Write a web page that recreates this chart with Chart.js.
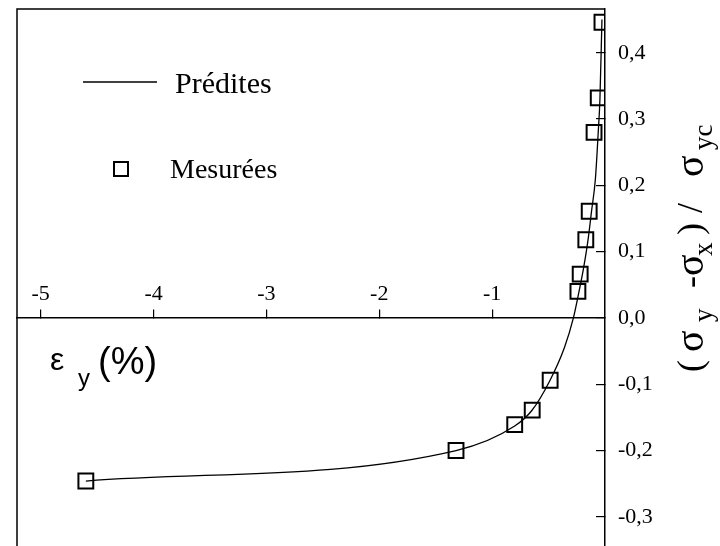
<!DOCTYPE html>
<html><head><meta charset="utf-8">
<script src="https://cdn.jsdelivr.net/npm/chart.js@4.4.1/dist/chart.umd.min.js"></script>
<style>html,body{margin:0;padding:0;background:#fff;overflow:hidden}#wrap{width:720px;height:546px;position:relative}</style>
</head><body><div id="wrap"><canvas id="c" width="720" height="546"></canvas></div>
<script>
const measuredX = [-4.60, -1.32, -0.80, -0.645, -0.486, -0.24, -0.22, -0.17, -0.14, -0.097, -0.06, -0.027];
const measuredY = [-0.246, -0.200, -0.161, -0.139, -0.094, 0.040, 0.066, 0.118, 0.161, 0.280, 0.332, 0.446];
const predictedX = [-4.60, -1.32, -0.80, -0.65, -0.49, -0.36, -0.28, -0.23, -0.19, -0.15, -0.12, -0.085, -0.06, -0.045, -0.027];
const predictedY = [-0.246, -0.200, -0.163, -0.140, -0.095, -0.045, 0.000, 0.040, 0.075, 0.118, 0.160, 0.210, 0.280, 0.330, 0.450];
const xTicks = [-5, -4, -3, -2, -1];
const yTicks = [-0.3, -0.2, -0.1, 0, 0.1, 0.2, 0.3, 0.4];
const seriesLabels = ['Prédites', 'Mesurées'];
// [text, kind, offset along the title]
const xTitleParts = [['ε', 'main', 0], ['y', 'sub', 28], ['(%)', 'big', 50]];
const yTitleParts = [['(', 'main', 0], ['σ', 'sym', 20], ['y', 'sub', 50], ['-', 'main', 84], ['σ', 'sym', 96], ['x', 'sub', 116], [')', 'main', 137], ['/', 'main', 159], ['σ', 'sym', 195], ['yc', 'sub', 222]];

const SERIF = '"Liberation Serif", "DejaVu Serif", serif';
const SANS = '"Liberation Sans", Arial, sans-serif';

const decor = {
  id: 'decor',
  afterDraw(chart) {
    const ctx = chart.ctx, a = chart.chartArea;
    ctx.save();
    ctx.strokeStyle = '#000';
    ctx.lineWidth = 1.5;
    ctx.beginPath();
    ctx.moveTo(a.left, chart.height);
    ctx.lineTo(a.left, a.top);
    ctx.lineTo(a.right, a.top);
    ctx.stroke();

    // legend
    ctx.fillStyle = '#000';
    ctx.lineWidth = 1.5;
    ctx.beginPath(); ctx.moveTo(83, 82); ctx.lineTo(157, 82); ctx.stroke();
    ctx.font = '30px ' + SERIF;
    ctx.textBaseline = 'alphabetic';
    ctx.textAlign = 'left';
    ctx.fillText(seriesLabels[0], 175, 93);
    ctx.lineWidth = 2;
    ctx.strokeRect(114, 162, 14, 14);
    ctx.font = '28px ' + SERIF;
    ctx.fillText(seriesLabels[1], 170, 178);

    // x title
    xTitleParts.forEach(([t, k, off]) => {
      if (k === 'sub') { ctx.font = '24px ' + SANS; ctx.fillText(t, 50 + off, 386); }
      else if (k === 'big') { ctx.font = '38px ' + SANS; ctx.fillText(t, 48 + off, 374); }
      else { ctx.font = '32px ' + SANS; ctx.fillText(t, 50 + off, 370); }
    });

    // y title (rotated, reads bottom to top)
    ctx.save();
    ctx.translate(703, 372);
    ctx.rotate(-Math.PI / 2);
    yTitleParts.forEach(([t, k, off]) => {
      if (k === 'sub') { ctx.font = '27px ' + SERIF; ctx.fillText(t, off, 9); }
      else if (k === 'sym') { ctx.font = '40px ' + SERIF; ctx.fillText(t, off, 0); }
      else { ctx.font = '36px ' + SERIF; ctx.fillText(t, off, -1); }
    });
    ctx.restore();
    ctx.restore();
  }
};

new Chart(document.getElementById('c'), {
  type: 'scatter',
  data: {
    datasets: [
      {
        type: 'line',
        label: seriesLabels[0],
        data: predictedX.map((v, i) => ({ x: v, y: predictedY[i] })),
        borderColor: '#000',
        borderWidth: 1.3,
        pointRadius: 0,
        fill: false,
        cubicInterpolationMode: 'monotone'
      },
      {
        label: seriesLabels[1],
        data: measuredX.map((v, i) => ({ x: v, y: measuredY[i] })),
        pointStyle: 'rect',
        pointRadius: 10.5,
        pointBorderWidth: 2,
        borderColor: '#000',
        backgroundColor: 'rgba(255,255,255,0)',
        pointBackgroundColor: 'rgba(255,255,255,0)'
      }
    ]
  },
  options: {
    responsive: false,
    animation: false,
    devicePixelRatio: 1,
    layout: { autoPadding: false, padding: { left: 17, top: 9, right: 0, bottom: 0 } },
    plugins: { legend: { display: false }, tooltip: { enabled: false } },
    scales: {
      x: {
        type: 'linear',
        min: -5.21,
        max: 0,
        position: { y: 0 },
        afterBuildTicks: s => { s.ticks = xTicks.map(v => ({ value: v })); },
        afterFit: s => { s.height = 0; s.paddingLeft = 0; s.paddingRight = 0; },
        grid: { drawOnChartArea: false, drawTicks: true, tickLength: -9, color: '#000', lineWidth: 1.2 },
        border: { display: true, color: '#000', width: 1.5 },
        ticks: {
          color: '#000',
          padding: -28,
          font: { family: SERIF, size: 22, lineHeight: 1.2 },
          maxRotation: 0,
          callback: v => String(v)
        }
      },
      y: {
        type: 'linear',
        min: -0.344,
        max: 0.466,
        position: 'right',
        afterBuildTicks: s => { s.ticks = yTicks.map(v => ({ value: v })); },
        afterFit: s => { s.width = 115; s.paddingTop = 0; s.paddingBottom = 0; },
        grid: { drawOnChartArea: false, drawTicks: true, tickLength: -9, color: '#000', lineWidth: 1.2 },
        border: { display: true, color: '#000', width: 1.5 },
        ticks: {
          color: '#000',
          padding: 22,
          font: { family: SERIF, size: 22, lineHeight: 0.02 },
          callback: v => v.toFixed(1).replace('.', ',')
        }
      }
    }
  },
  plugins: [decor]
});
</script></body></html>
